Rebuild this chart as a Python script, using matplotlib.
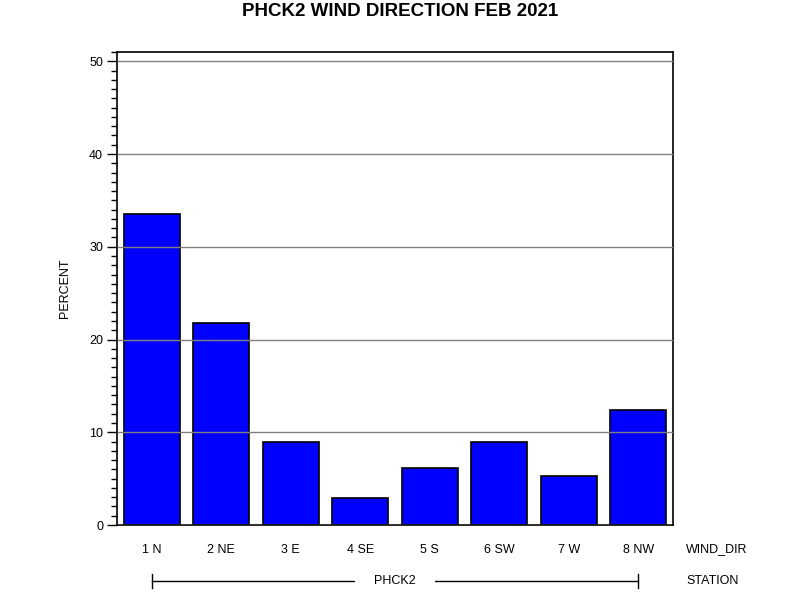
import matplotlib
matplotlib.use("Agg")
import matplotlib.pyplot as plt
from matplotlib.ticker import MultipleLocator
from matplotlib.lines import Line2D

categories = ["1 N", "2 NE", "3 E", "4 SE", "5 S", "6 SW", "7 W", "8 NW"]
percent = [33.5, 21.8, 8.9, 2.9, 6.1, 8.9, 5.3, 12.4]
station = "PHCK2"
title = "PHCK2 WIND DIRECTION FEB 2021"

plt.rcParams['font.family'] = ['Liberation Sans', 'DejaVu Sans']

fig = plt.figure(figsize=(8, 6), dpi=100)
ax = fig.add_axes([117/800, 1-525/600, (673-117)/800, (525-52)/600])

x = list(range(len(categories)))
ax.bar(x, percent, width=0.806, color="#0000ff", edgecolor="black", linewidth=1.2, zorder=2)
ax.set_xlim(-0.5, len(categories)-0.5)
ax.set_ylim(0, 51)
ax.yaxis.set_major_locator(MultipleLocator(10))
ax.yaxis.set_minor_locator(MultipleLocator(1))
ax.grid(axis='y', which='major', color='#808080', linewidth=1, zorder=3)
ax.set_axisbelow(False)
for s in ax.spines.values():
    s.set_linewidth(1.2)
ax.tick_params(axis='y', which='major', length=7, width=1.0, labelsize=9, pad=3)
ax.tick_params(axis='y', which='minor', length=4, width=1.0)
ax.set_xticks(x)
ax.set_xticklabels(categories, fontsize=9)
ax.tick_params(axis='x', length=0, pad=14)
ax.set_ylabel("PERCENT", fontsize=9, labelpad=13)

fig.text(400/800, 1-12/600, title, ha='center', va='center', fontsize=13.5, fontweight='bold')
fig.text(686/800, 1-549/600, "WIND_DIR", ha='left', va='center', fontsize=9)
fig.text(686/800, 1-581/600, "STATION", ha='left', va='center', fontsize=9)

# station bracket spanning the categories
trans = matplotlib.transforms.blended_transform_factory(ax.transData, fig.transFigure)
yb = 1-581/600
x0, x1 = x[0], x[-1]
xm = (x0 + x1) / 2
fig.add_artist(Line2D([x0, x1], [yb, yb], transform=trans, color='black', linewidth=1, zorder=4))
for xe in (x0, x1):
    fig.add_artist(Line2D([xe, xe], [yb-0.012, yb+0.012], transform=trans, color='black', linewidth=1, zorder=4))
t = matplotlib.text.Text(xm, yb, station, transform=trans, ha='center', va='center', fontsize=9,
                         bbox=dict(facecolor='white', edgecolor='none', pad=14), zorder=6)
fig.add_artist(t)

fig.savefig("out.png", dpi=100)
